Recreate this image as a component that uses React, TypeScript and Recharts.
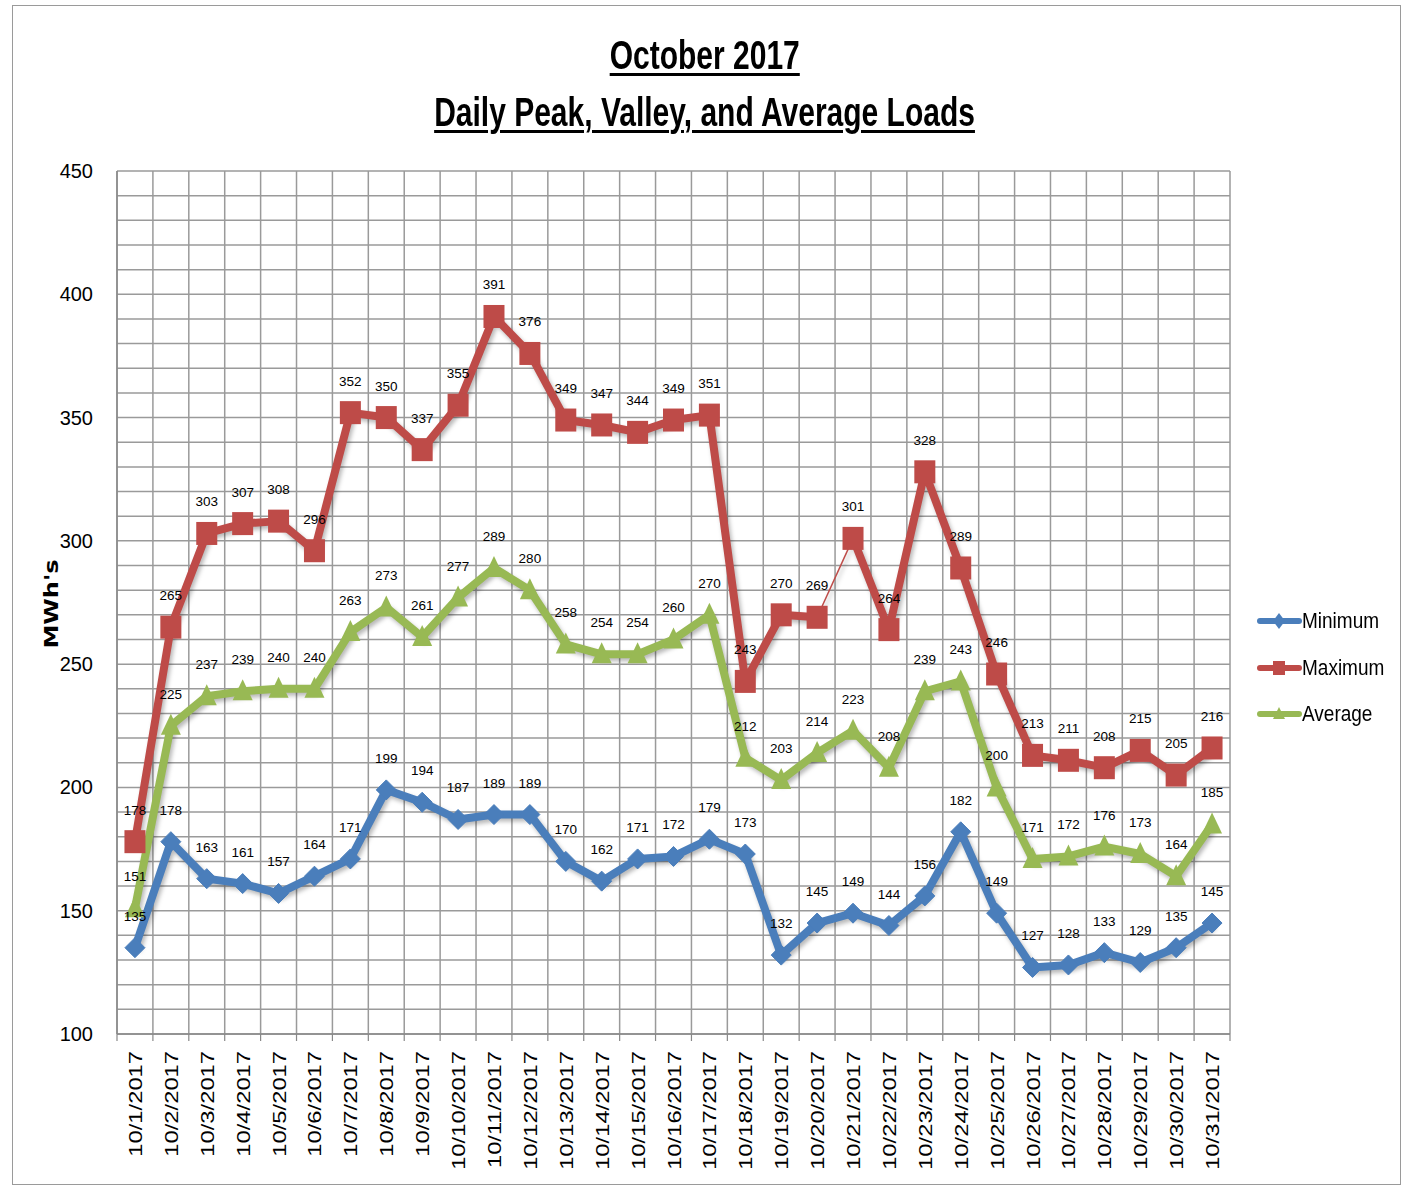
import React from "react";
import { LineChart, Line, XAxis, YAxis, CartesianGrid, LabelList } from "recharts";

const days = [
  "10/1/2017","10/2/2017","10/3/2017","10/4/2017","10/5/2017","10/6/2017","10/7/2017","10/8/2017",
  "10/9/2017","10/10/2017","10/11/2017","10/12/2017","10/13/2017","10/14/2017","10/15/2017","10/16/2017",
  "10/17/2017","10/18/2017","10/19/2017","10/20/2017","10/21/2017","10/22/2017","10/23/2017","10/24/2017",
  "10/25/2017","10/26/2017","10/27/2017","10/28/2017","10/29/2017","10/30/2017","10/31/2017",
];
const minimum = [135,178,163,161,157,164,171,199,194,187,189,189,170,162,171,172,179,173,132,145,149,144,156,182,149,127,128,133,129,135,145];
const maximum = [178,265,303,307,308,296,352,350,337,355,391,376,349,347,344,349,351,243,270,269,301,264,328,289,246,213,211,208,215,205,216];
const average = [151,225,237,239,240,240,263,273,261,277,289,280,258,254,254,260,270,212,203,214,223,208,239,243,200,171,172,176,173,164,185];
const yTicks = [100,150,200,250,300,350,400,450];
const gridValues = [100,110,120,130,140,150,160,170,180,190,200,210,220,230,240,250,260,270,280,290,300,310,320,330,340,350,360,370,380,390,400,410,420,430,440,450];

// the thin Maximum segment runs between these two days
const thinFrom = 19;
const thinTo = 20;

const data = days.map((day, i) => ({
  day,
  min: minimum[i],
  maxA: i <= thinFrom ? maximum[i] : null,
  maxB: i >= thinTo ? maximum[i] : null,
  maxThin: i === thinFrom || i === thinTo ? maximum[i] : null,
  avg: average[i],
}));

const BLUE = "#4A7EBB";
const RED = "#BE4B48";
const GREEN = "#98B954";
const FONT = "'Liberation Sans', Arial, sans-serif";

const W = 1406;
const H = 1188;
const M = { top: 171, right: 176, bottom: 14, left: 40 };
const X_AXIS_H = 140;
const Y_AXIS_W = 77;
const PLOT_W = W - M.left - M.right - Y_AXIS_W;
const HALF_BAND = PLOT_W / days.length / 2;

const Diamond = (p: any) => {
  const { cx, cy } = p;
  if (cx == null || cy == null || p.value == null) return null;
  const r = 10;
  return <polygon points={`${cx},${cy - r} ${cx + r},${cy} ${cx},${cy + r} ${cx - r},${cy}`} fill={BLUE} stroke={BLUE} strokeWidth={1} />;
};
const Square = (p: any) => {
  const { cx, cy } = p;
  if (cx == null || cy == null || p.value == null) return null;
  const s = 21;
  return <rect x={cx - s / 2} y={cy - s / 2 - 1} width={s} height={s + 2} fill={RED} />;
};
const Triangle = (p: any) => {
  const { cx, cy } = p;
  if (cx == null || cy == null || p.value == null) return null;
  return <polygon points={`${cx},${cy - 12} ${cx + 10},${cy + 9} ${cx - 10},${cy + 9}`} fill={GREEN} />;
};

const XTick = (props: any) => {
  const { x, y, payload, index } = props;
  return (
    <g>
      <line x1={x + HALF_BAND} x2={x + HALF_BAND} y1={y - 8} y2={y - 1} stroke="#888" strokeWidth={1.2} />
      {index === 0 && <line x1={x - HALF_BAND} x2={x - HALF_BAND} y1={y - 8} y2={y - 1} stroke="#888" strokeWidth={1.2} />}
      <text
        x={0}
        y={0}
        transform={`translate(${x + 7},${y + 9}) rotate(-90) scale(1.25,1)`}
        textAnchor="end"
        fontSize={19}
        fontFamily={FONT}
        fill="#000"
      >
        {payload.value}
      </text>
    </g>
  );
};

const YTick = (props: any) => {
  const { x, y, payload } = props;
  return (
    <text x={x - 16} y={y + 7} textAnchor="end" fontSize={20} fontFamily={FONT} fill="#000">
      {payload.value}
    </text>
  );
};

const legendItems = [
  { name: "Minimum", color: BLUE, shape: "diamond" },
  { name: "Maximum", color: RED, shape: "square" },
  { name: "Average", color: GREEN, shape: "triangle" },
];

const LegendBox = () => (
  <div style={{ position: "absolute", left: 1256, top: 598, fontFamily: FONT }}>
    {legendItems.map((it) => (
      <div key={it.name} style={{ display: "flex", alignItems: "center", height: 46.5 }}>
        <svg width={46} height={20} style={{ display: "block" }}>
          <line x1={4} x2={43} y1={10} y2={10} stroke={it.color} strokeWidth={6} strokeLinecap="round" />
          {it.shape === "diamond" && <polygon points="23,2 29,10 23,18 17,10" fill={it.color} />}
          {it.shape === "square" && <rect x={17} y={3} width={12} height={14} fill={it.color} />}
          {it.shape === "triangle" && <polygon points="23,3 29,15 17,15" fill={it.color} />}
        </svg>
        <span style={{ fontSize: 19, color: "#000", display: "inline-block", transform: "scaleY(1.12)" }}>{it.name}</span>
      </div>
    ))}
  </div>
);

const labelProps = {
  position: "top" as const,
  offset: 27,
  fontSize: 13.5,
  fontFamily: FONT,
  fill: "#000",
};

const titleSpan: React.CSSProperties = {
  display: "inline-block",
  textDecoration: "underline",
  textDecorationThickness: 3,
  textUnderlineOffset: 4,
  transform: "scaleX(0.75)",
  whiteSpace: "nowrap",
};

export default function App() {
  return (
    <div style={{ position: "absolute", left: 0, top: 0, width: W, height: H, background: "#fff" }}>
      <style>{`.recharts-line-curve { filter: drop-shadow(2px 3px 2px rgba(0,0,0,0.28)); }`}</style>
      <div style={{ position: "absolute", left: 12, top: 5, width: 1389, height: 1180, border: "1px solid #9a9a9a", boxSizing: "border-box" }} />
      <div style={{ position: "absolute", left: 0, top: 27, width: 1410, textAlign: "center", fontFamily: FONT, fontWeight: "bold", fontSize: 40, lineHeight: "57px", color: "#000" }}>
        <div><span style={titleSpan}>October 2017</span></div>
        <div><span style={titleSpan}>Daily Peak, Valley, and Average Loads</span></div>
      </div>
      <div style={{ position: "absolute", left: 51, top: 604, transform: "translate(-50%,-50%) rotate(-90deg) scaleX(1.2)", fontFamily: "'DejaVu Sans', sans-serif", fontWeight: "bold", fontSize: 20, color: "#000", whiteSpace: "nowrap" }}>
        MWh's
      </div>
      <LineChart width={W} height={H} data={data} margin={M} style={{ position: "absolute", left: 0, top: 0 }}>
        <CartesianGrid
          stroke="#9a9a9a"
          strokeWidth={1.5}
          horizontalCoordinatesGenerator={({ offset }: any) =>
            gridValues.map((v) => offset.top + (offset.height * (450 - v)) / 350)
          }
          verticalCoordinatesGenerator={({ offset }: any) =>
            Array.from({ length: days.length + 1 }, (_, i) => offset.left + (offset.width * i) / days.length)
          }
        />
        <XAxis
          dataKey="day"
          interval={0}
          height={X_AXIS_H}
          padding={{ left: HALF_BAND, right: HALF_BAND }}
          tick={<XTick />}
          tickLine={false}
          axisLine={{ stroke: "#888", strokeWidth: 1.5 }}
        />
        <YAxis
          domain={[100, 450]}
          ticks={yTicks}
          width={Y_AXIS_W}
          tick={<YTick />}
          tickLine={false}
          axisLine={{ stroke: "#888", strokeWidth: 1.5 }}
        />
        <Line dataKey="min" name="Minimum" stroke={BLUE} strokeWidth={8} dot={<Diamond />} activeDot={false} isAnimationActive={false} strokeLinejoin="round">
          <LabelList dataKey="min" {...labelProps} />
        </Line>
        <Line dataKey="maxThin" name="Maximum" stroke={RED} strokeWidth={1.5} dot={false} activeDot={false} legendType="none" isAnimationActive={false} />
        <Line dataKey="maxA" name="Maximum" stroke={RED} strokeWidth={8} dot={<Square />} activeDot={false} isAnimationActive={false} strokeLinejoin="round">
          <LabelList dataKey="maxA" {...labelProps} />
        </Line>
        <Line dataKey="maxB" name="Maximum" stroke={RED} strokeWidth={8} dot={<Square />} activeDot={false} legendType="none" isAnimationActive={false} strokeLinejoin="round">
          <LabelList dataKey="maxB" {...labelProps} />
        </Line>
        <Line dataKey="avg" name="Average" stroke={GREEN} strokeWidth={8} dot={<Triangle />} activeDot={false} isAnimationActive={false} strokeLinejoin="round">
          <LabelList dataKey="avg" {...labelProps} />
        </Line>
      </LineChart>
      <LegendBox />
    </div>
  );
}
